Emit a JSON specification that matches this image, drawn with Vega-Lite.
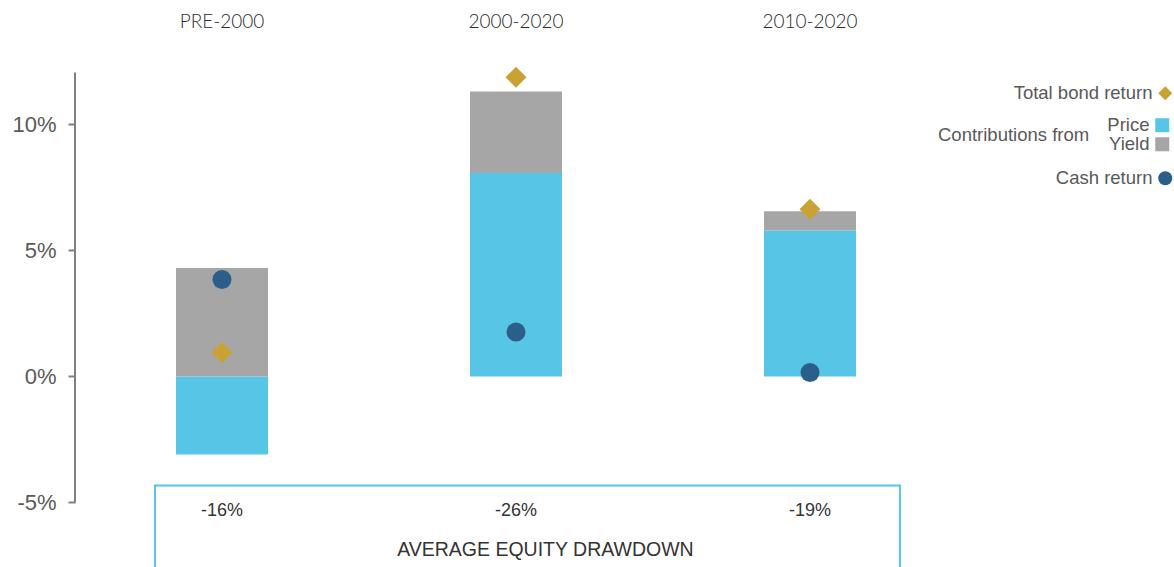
{
  "$schema": "https://vega.github.io/schema/vega-lite/v6.json",
  "width": 882,
  "height": 494,
  "autosize": "none",
  "padding": {"left": 75, "top": 74, "right": 217, "bottom": 0},
  "background": "white",
  "config": {
    "view": {"stroke": null},
    "legend": {
      "orient": "none",
      "padding": 0,
      "labelFont": "Liberation Sans",
      "labelFontSize": 18.5,
      "labelColor": "#595959",
      "labelAlign": "right",
      "labelOffset": -22,
      "symbolSize": 196,
      "symbolStrokeWidth": 0,
      "rowPadding": 0,
      "titleFont": "Liberation Sans",
      "titleFontSize": 18.5,
      "titleFontWeight": "normal",
      "titleColor": "#595959"
    }
  },
  "datasets": {
    "returns": [
      {"period": "PRE-2000", "measure": "Price", "value": -3.1},
      {"period": "PRE-2000", "measure": "Yield", "value": 4.3},
      {"period": "PRE-2000", "measure": "Total bond return", "value": 0.95},
      {"period": "PRE-2000", "measure": "Cash return", "value": 3.85},
      {"period": "2000-2020", "measure": "Price", "value": 8.07},
      {"period": "2000-2020", "measure": "Yield", "value": 3.24},
      {"period": "2000-2020", "measure": "Total bond return", "value": 11.87},
      {"period": "2000-2020", "measure": "Cash return", "value": 1.76},
      {"period": "2010-2020", "measure": "Price", "value": 5.79},
      {"period": "2010-2020", "measure": "Yield", "value": 0.76},
      {"period": "2010-2020", "measure": "Total bond return", "value": 6.63},
      {"period": "2010-2020", "measure": "Cash return", "value": 0.16}
    ],
    "drawdown": [
      {"period": "PRE-2000", "drawdown": "-16%"},
      {"period": "2000-2020", "drawdown": "-26%"},
      {"period": "2010-2020", "drawdown": "-19%"}
    ]
  },
  "layer": [
    {
      "layer": [
        {
          "data": {"name": "returns"},
          "transform": [{"filter": "datum.measure === 'Price' || datum.measure === 'Yield'"}],
          "mark": {"type": "bar", "width": {"band": 0.313}},
          "encoding": {
            "x": {
              "field": "period", "type": "nominal",
              "sort": ["PRE-2000", "2000-2020", "2010-2020"],
              "scale": {"paddingInner": 0, "paddingOuter": 0},
              "axis": {
                "orient": "top", "title": null, "domain": false, "ticks": false,
                "labelAngle": 0, "labelPadding": 43, "labelFont": "Lato", "labelFontWeight": 300,
                "labelFontSize": 19, "labelColor": "#2b2b2b"
              }
            },
            "y": {
              "field": "value", "type": "quantitative", "stack": "zero",
              "scale": {"domain": [-7.6, 12], "nice": false, "zero": false},
              "axis": {
                "title": null, "values": [-5, 0, 5, 10], "labelExpr": "datum.value + '%'",
                "domain": false, "grid": false, "ticks": true, "tickSize": 7,
                "tickColor": "#808080", "tickWidth": 2, "labelPadding": 12,
                "labelFont": "Liberation Sans", "labelFontSize": 22, "labelColor": "#595959"
              }
            },
            "order": {"field": "measure", "type": "nominal", "sort": "ascending"},
            "color": {
              "field": "measure", "type": "nominal",
              "scale": {"domain": ["Price", "Yield"], "range": ["#56C5E6", "#A6A6A6"]},
              "legend": {"title": "Contributions from", "titleOrient": "left", "symbolType": "square", "titlePadding": 63, "legendX": 863, "legendY": 42}
            }
          }
        },
        {
          "data": {"name": "returns"},
          "transform": [{"filter": "datum.measure === 'Total bond return'"}],
          "mark": {"type": "point", "filled": true, "size": 441, "color": "#C9A233", "opacity": 1},
          "encoding": {
            "x": {"field": "period", "type": "nominal", "sort": ["PRE-2000", "2000-2020", "2010-2020"]},
            "y": {"field": "value", "type": "quantitative"},
            "shape": {
              "field": "measure", "type": "nominal",
              "scale": {"domain": ["Total bond return"], "range": ["diamond"]},
              "legend": {"title": null, "symbolFillColor": "#C9A233", "symbolOpacity": 1, "legendX": 1081, "legendY": 10}
            }
          }
        },
        {
          "data": {"name": "returns"},
          "transform": [{"filter": "datum.measure === 'Cash return'"}],
          "mark": {"type": "point", "filled": true, "shape": "circle", "size": 361, "opacity": 1},
          "encoding": {
            "x": {"field": "period", "type": "nominal", "sort": ["PRE-2000", "2000-2020", "2010-2020"]},
            "y": {"field": "value", "type": "quantitative"},
            "color": {
              "field": "measure", "type": "nominal",
              "scale": {"domain": ["Cash return"], "range": ["#2B5F8A"]},
              "legend": {"title": null, "symbolType": "circle", "symbolOpacity": 1, "legendX": 1081, "legendY": 95}
            }
          }
        },
        {
          "data": {"name": "drawdown"},
          "mark": {"type": "text", "font": "Liberation Sans", "fontSize": 18, "color": "#333333"},
          "encoding": {
            "x": {"field": "period", "type": "nominal", "sort": ["PRE-2000", "2000-2020", "2010-2020"]},
            "y": {"datum": -5.35, "type": "quantitative"},
            "text": {"field": "drawdown"}
          }
        }
      ],
      "resolve": {"scale": {"color": "independent"}}
    },
    {
      "data": {"values": [{"label": "AVERAGE EQUITY DRAWDOWN"}]},
      "layer": [
        {
          "mark": {"type": "rule", "color": "#808080", "strokeWidth": 2},
          "encoding": {
            "x": {"datum": 0, "type": "quantitative", "scale": {"domain": [0, 3], "nice": false, "zero": false}, "axis": null},
            "y": {"datum": -5, "type": "quantitative"},
            "y2": {"datum": 12.06}
          }
        },
        {
          "mark": {"type": "rect", "fill": "white", "fillOpacity": 0, "stroke": "#56C5E6", "strokeWidth": 2},
          "encoding": {
            "x": {"datum": 0.272, "type": "quantitative", "scale": {"domain": [0, 3], "nice": false, "zero": false}, "axis": null},
            "x2": {"datum": 2.806},
            "y": {"datum": -4.33, "type": "quantitative"},
            "y2": {"datum": -8.2}
          }
        },
        {
          "mark": {"type": "text", "font": "Liberation Sans", "fontSize": 19.5, "color": "#333333"},
          "encoding": {
            "x": {"datum": 1.6, "type": "quantitative", "scale": {"domain": [0, 3], "nice": false, "zero": false}, "axis": null},
            "y": {"datum": -6.9, "type": "quantitative"},
            "text": {"field": "label"}
          }
        }
      ]
    }
  ],
  "resolve": {"scale": {"x": "independent", "color": "independent", "shape": "independent"}}
}
